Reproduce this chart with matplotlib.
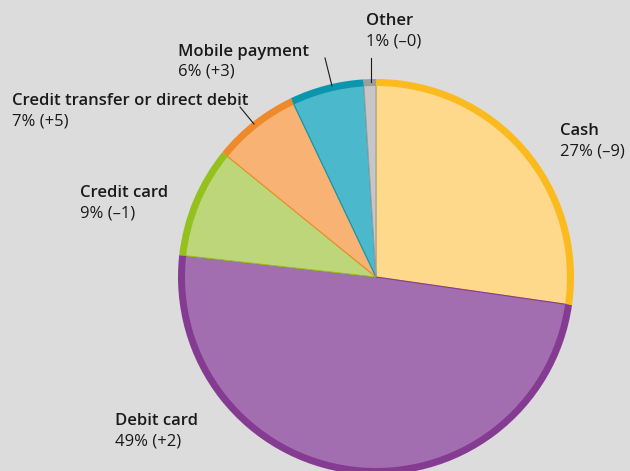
import matplotlib.pyplot as plt

# payment method shares in percent, change in brackets
labels = ["Cash", "Debit card", "Credit card", "Credit transfer or direct debit",
          "Mobile payment", "Other"]
shares = [27, 49, 9, 7, 6, 1]
changes = ["\u20139", "+2", "\u20131", "+5", "+3", "\u20130"]

fill_colors = ["#fed98b", "#a36eaf", "#bed67a", "#f7b274", "#4bb8cb", "#c6c6c6"]
rim_colors = ["#fbba1e", "#853b92", "#95c11f", "#ef8a2c", "#0a97ae", "#9d9d9d"]

W, H = 630, 471
BG = "#dcdcdc"
plt.rcParams["font.family"] = ["Open Sans", "DejaVu Sans"]

fig = plt.figure(figsize=(W / 100, H / 100), dpi=100, facecolor=BG)
ax = fig.add_axes([0, 0, 1, 1])
ax.set_facecolor(BG)

cx, cy, r = 376, H - 277, 198
rim = 7

# filled slices with thin separators in the rim colour of each slice
wedges, _ = ax.pie(shares, colors=fill_colors, startangle=90, counterclock=False,
                   center=(cx, cy), radius=r - rim / 2)
for w, c in zip(wedges, rim_colors):
    w.set_edgecolor(c)
    w.set_linewidth(0.8)
# coloured outer rim
ax.pie(shares, colors=rim_colors, startangle=90, counterclock=False,
       center=(cx, cy), radius=r, wedgeprops=dict(width=rim, linewidth=0))

ax.set_xlim(0, W)
ax.set_ylim(0, H)
ax.set_aspect("equal")
ax.axis("off")

# label anchor (top-left) in pixel coordinates from the top
label_pos = [(560, 123), (115, 413), (80, 185), (12, 93), (178, 44), (366, 13)]
for name, s, ch, (x, y) in zip(labels, shares, changes, label_pos):
    ax.text(x, H - y, name, fontsize=12, fontweight="semibold", color="#1a1a1a",
            va="top", ha="left")
    ax.text(x, H - y - 20, f"{s}% ({ch})", fontsize=12, color="#1a1a1a",
            va="top", ha="left")

# leader lines
leaders = [((371, 58), (371, 82)), ((325, 58), (332, 86)), ((240, 107), (254, 124))]
for (x0, y0), (x1, y1) in leaders:
    ax.plot([x0, x1], [H - y0, H - y1], color="#1a1a1a", linewidth=0.8)

fig.savefig("out.png", dpi=100, facecolor=BG)
